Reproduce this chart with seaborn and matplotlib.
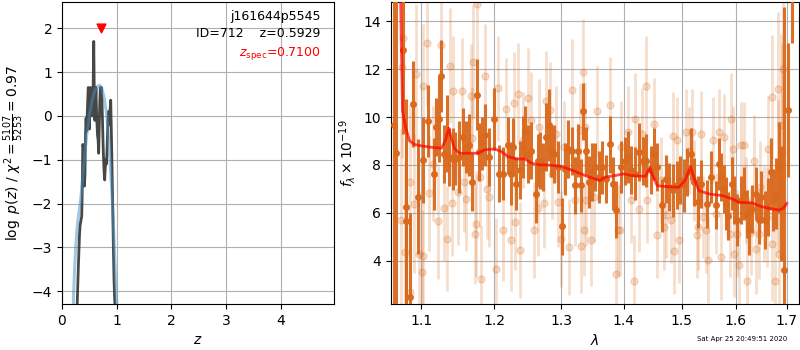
import numpy as np
import pandas as pd
import matplotlib
matplotlib.use("Agg")
import matplotlib.pyplot as plt
from matplotlib.ticker import FixedLocator, NullLocator, FixedFormatter
import seaborn as sns

# p(z): noisy full fit and smooth prior-ish curve
pz_z = [0.27, 0.28, 0.30, 0.32, 0.33, 0.35, 0.36, 0.37, 0.38, 0.39,
        0.40, 0.41, 0.42, 0.43, 0.44, 0.45, 0.46, 0.47, 0.48, 0.49,
        0.50, 0.51, 0.52, 0.53, 0.54, 0.55, 0.56, 0.57, 0.58, 0.59,
        0.60, 0.61, 0.62, 0.63, 0.64, 0.65, 0.66, 0.67, 0.68, 0.69,
        0.70, 0.71, 0.72, 0.73, 0.74, 0.75, 0.76, 0.77, 0.78, 0.79,
        0.80, 0.81, 0.82, 0.83, 0.84, 0.85, 0.86, 0.87, 0.88, 0.89,
        0.90, 0.91, 0.92, 0.93, 0.94, 0.95, 0.96, 0.97, 0.98]
pz_logp = [-4.8, -4.2, -3.4, -2.7, -2.5, -2.35, -2.3, -1.7, -0.65, -0.7,
           -1.1, -1.6, -1.3, -0.4, -0.05, -0.35, 0.0, 0.35, 0.65, 0.4,
           -0.3, 0.2, 0.65, 0.55, 0.0, 0.4, 0.2, 0.7, 1.7, 0.5,
           -0.1, 0.3, 0.65, 0.15, -0.2, -0.45, -0.55, -0.85, -0.3, 0.3,
           0.65, 0.6, 0.65, 0.35, -0.1, -0.6, -1.0, -1.3, -1.46, -1.2,
           -1.0, -1.1, -0.9, -0.5, -0.1, 0.1, 0.05, -0.2, 0.15, 0.36,
           -0.25, -0.9, -1.6, -2.3, -3.1, -3.7, -4.1, -4.4, -4.7]

smooth_z = [0.20, 0.21, 0.23, 0.25, 0.28, 0.31, 0.35, 0.40, 0.45, 0.50, 0.55, 0.60,
            0.65, 0.69, 0.73, 0.77, 0.81, 0.85, 0.88, 0.91, 0.94, 0.97, 1.00, 1.02]
smooth_logp = [-5.0, -4.1, -3.5, -3.0, -2.5, -2.2, -1.8, -1.1, -0.45, 0.0, 0.35, 0.58,
               0.68, 0.70, 0.62, 0.42, 0.1, -0.5, -1.1, -1.7, -2.5, -3.4, -4.3, -4.9]

z_spec = 0.71

# spectrum, first grism (dark points)
wave_g1 = [1.065, 1.068, 1.076, 1.080, 1.081, 1.0855, 1.090, 1.0955, 1.102, 1.109,
           1.117, 1.120, 1.124, 1.127, 1.130, 1.135, 1.137, 1.142, 1.146, 1.151,
           1.156, 1.160, 1.165, 1.169, 1.176, 1.179, 1.183, 1.187, 1.192, 1.200,
           1.207, 1.212, 1.220, 1.225, 1.227, 1.232, 1.238, 1.242, 1.245, 1.250,
           1.254, 1.261, 1.264, 1.268, 1.272, 1.277, 1.281, 1.284, 1.289, 1.294,
           1.301, 1.306, 1.310, 1.316, 1.321, 1.326, 1.330, 1.334, 1.338, 1.344,
           1.349, 1.353, 1.360, 1.365, 1.371, 1.378, 1.383, 1.388, 1.395, 1.402,
           1.408, 1.413, 1.419, 1.425, 1.432, 1.438, 1.446, 1.451, 1.457, 1.466,
           1.472, 1.478, 1.485, 1.491, 1.498, 1.504, 1.510, 1.516, 1.522, 1.530,
           1.535, 1.546, 1.554, 1.563, 1.568, 1.572, 1.577, 1.581, 1.586, 1.593,
           1.597, 1.603, 1.609, 1.616, 1.622, 1.625, 1.632, 1.638, 1.644, 1.649,
           1.656, 1.662, 1.668, 1.673, 1.679, 1.684, 1.689, 1.695, 1.703, 1.711]
flux_g1 = [9.65, 8.5, 12.8, 5.65, 6.25, 2.5, 10.55, 6.67, 8.2, 9.82,
           7.64, 9.58, 9.93, 11.7, 8.46, 9.3, 8.33, 8.26, 8.26, 8.33,
           9.17, 8.75, 8.82, 7.29, 10.94, 8.54, 8.9, 9.24, 8.33, 9.93,
           7.64, 7.64, 8.82, 7.64, 8.75, 7.22, 7.78, 8.75, 9.38, 8.46,
           8.6, 6.79, 8.18, 8.18, 7.92, 9.17, 9.65, 8.6, 8.46, 7.92,
           5.44, 7.83, 8.67, 8.6, 7.15, 8.6, 7.15, 10.24, 8.6, 7.29,
           7.71, 7.92, 7.5, 7.9, 7.4, 8.86, 7.22, 6.14, 7.92, 8.18,
           8.33, 7.78, 7.64, 8.54, 8.18, 8.18, 7.78, 8.46, 7.92, 6.32,
           7.43, 7.08, 6.94, 7.15, 7.36, 7.15, 7.71, 8.46, 7.29, 6.46,
           7.22, 6.39, 7.5, 6.32, 8.04, 7.5, 7.01, 6.39, 5.86, 7.22,
           6.53, 5.7, 6.53, 6.81, 5.97, 5.35, 6.18, 6.81, 5.7, 6.67,
           5.7, 6.25, 7.71, 6.53, 6.81, 7.9, 6.39, 3.6, 10.28, 16.5]
err_g1 = [9.0, 9.0, 3.5, 3.5, 4.5, 3.5, 1.8, 2.4, 1.8, 1.5,
          1.5, 1.2, 1.8, 1.5, 1.2, 1.6, 1.2, 1.3, 1.1, 1.5,
          1.2, 1.1, 1.3, 1.2, 1.5, 1.2, 1.1, 1.3, 1.2, 1.3,
          1.2, 1.1, 1.2, 1.3, 1.2, 1.1, 1.2, 1.3, 1.1, 1.2,
          1.2, 1.2, 1.1, 1.2, 1.0, 1.4, 1.5, 1.1, 1.2, 1.1,
          1.2, 1.1, 1.2, 1.0, 1.2, 1.1, 1.1, 1.2, 1.0, 1.1,
          1.2, 1.0, 1.1, 1.1, 1.0, 1.2, 1.1, 1.2, 1.1, 1.0,
          1.1, 1.0, 1.1, 1.2, 1.0, 1.1, 1.0, 1.1, 1.0, 1.1,
          1.0, 1.0, 1.1, 1.0, 1.0, 1.1, 1.0, 1.1, 1.0, 1.1,
          1.0, 1.0, 1.1, 1.0, 1.1, 1.0, 1.0, 1.1, 1.0, 1.1,
          1.0, 1.1, 1.0, 1.1, 1.0, 1.1, 1.0, 1.1, 1.0, 1.1,
          1.2, 1.2, 1.4, 1.3, 1.5, 1.9, 2.4, 11.0, 2.8, 3.4]

# spectrum, second grism (faint points)
wave_g2 = [1.074, 1.075, 1.076, 1.079, 1.085, 1.086, 1.091, 1.094, 1.097, 1.101,
           1.102, 1.103, 1.108, 1.111, 1.116, 1.123, 1.126, 1.130, 1.135, 1.139,
           1.142, 1.141, 1.149, 1.155, 1.158, 1.160, 1.167, 1.170, 1.169, 1.173,
           1.175, 1.176, 1.180, 1.181, 1.187, 1.190, 1.192, 1.203, 1.205, 1.212,
           1.217, 1.225, 1.228, 1.230, 1.235, 1.237, 1.242, 1.250, 1.254, 1.258,
           1.264, 1.266, 1.274, 1.276, 1.283, 1.286, 1.292, 1.294, 1.299, 1.304,
           1.312, 1.316, 1.321, 1.329, 1.330, 1.334, 1.335, 1.337, 1.339, 1.347,
           1.351, 1.356, 1.378, 1.388, 1.390, 1.394, 1.396, 1.408, 1.412, 1.418,
           1.419, 1.426, 1.431, 1.437, 1.440, 1.451, 1.457, 1.463, 1.469, 1.472,
           1.481, 1.484, 1.487, 1.492, 1.496, 1.507, 1.513, 1.519, 1.522, 1.527,
           1.530, 1.535, 1.539, 1.545, 1.548, 1.557, 1.562, 1.568, 1.572, 1.578,
           1.588, 1.591, 1.594, 1.597, 1.603, 1.606, 1.609, 1.616, 1.619, 1.622,
           1.630, 1.635, 1.638, 1.644, 1.647, 1.654, 1.660, 1.663, 1.670, 1.671,
           1.677, 1.682, 1.682, 1.685, 1.689, 1.690, 1.693]
flux_g2 = [5.72, 12.1, 13.3, 4.37, 2.7, 7.29, 6.39, 11.8, 4.3, 3.54,
           11.3, 4.19, 13.1, 6.83, 8.05, 5.65, 13.0, 6.2, 4.93, 12.15,
           11.1, 6.42, 6.88, 11.1, 7.29, 6.6, 10.86, 12.3, 9.14, 5.14,
           5.53, 14.7, 7.5, 3.26, 11.7, 7.0, 6.67, 3.68, 11.2, 5.28,
           10.35, 4.86, 10.6, 5.63, 10.97, 4.44, 9.03, 10.8, 9.89, 5.28,
           6.22, 9.58, 6.43, 10.67, 10.3, 7.64, 9.3, 6.46, 4.93, 8.75,
           4.58, 11.14, 6.53, 9.44, 4.64, 11.9, 5.28, 9.58, 6.53, 4.86,
           6.67, 10.24, 10.5, 3.46, 5.28, 5.28, 8.75, 9.38, 6.53, 3.18,
           9.93, 6.18, 9.3, 11.28, 6.53, 9.72, 5.07, 7.36, 5.42, 5.9,
           5.7, 9.23, 4.42, 9.03, 4.86, 9.38, 8.6, 9.38, 7.36, 5.07,
           5.42, 9.3, 5.83, 5.28, 4.03, 9.03, 5.97, 9.38, 4.17, 9.17,
           5.14, 9.93, 8.68, 4.3, 5.14, 3.82, 8.82, 8.82, 6.53, 3.18,
           5.21, 8.18, 4.51, 5.14, 7.08, 5.97, 5.83, 8.68, 10.83, 4.72,
           3.18, 11.18, 7.57, 4.3, 9.65, 8.54, 12.0]
err_g2 = [3.8, 3.8, 3.8, 3.8, 3.2, 3.2, 2.9, 2.9, 2.6, 2.6,
          2.6, 2.4, 2.6, 2.4, 2.4, 2.4, 2.4, 2.2, 2.2, 2.4,
          2.3, 2.2, 2.2, 2.2, 2.1, 2.2, 2.2, 2.4, 2.1, 2.1,
          2.2, 2.6, 2.1, 2.2, 2.2, 2.1, 2.1, 2.1, 2.2, 2.1,
          2.1, 2.1, 2.1, 2.0, 2.1, 2.0, 2.0, 2.1, 2.0, 2.0,
          2.0, 2.0, 1.9, 2.1, 2.0, 1.9, 2.0, 1.9, 2.0, 1.9,
          2.0, 2.1, 1.9, 2.0, 2.0, 2.2, 1.9, 1.9, 1.9, 1.9,
          1.9, 1.9, 2.0, 2.0, 1.9, 1.9, 1.9, 1.9, 1.8, 1.9,
          1.9, 1.8, 1.9, 2.1, 1.8, 1.9, 1.8, 1.8, 1.8, 1.8,
          1.8, 1.8, 1.8, 1.8, 1.8, 1.8, 1.8, 1.8, 1.7, 1.8,
          1.8, 1.8, 1.7, 1.8, 1.8, 1.8, 1.7, 1.8, 1.8, 1.8,
          1.8, 1.9, 1.8, 1.8, 1.8, 1.9, 1.8, 1.8, 1.8, 1.9,
          1.8, 1.9, 1.9, 1.9, 1.9, 2.0, 2.1, 2.2, 2.6, 2.4,
          2.8, 3.2, 3.2, 3.2, 3.8, 4.5, 6.0]

# best-fit model
wave_model = [1.073, 1.075, 1.076, 1.080, 1.085, 1.092, 1.100, 1.113, 1.127, 1.132,
              1.137, 1.140, 1.145, 1.152, 1.168, 1.177, 1.186, 1.200, 1.210, 1.220,
              1.2325, 1.245, 1.255, 1.265, 1.280, 1.300, 1.316, 1.337, 1.353, 1.361,
              1.369, 1.386, 1.400, 1.413, 1.431, 1.437, 1.444, 1.448, 1.457, 1.472,
              1.495, 1.506, 1.516, 1.524, 1.531, 1.550, 1.575, 1.594, 1.606, 1.631,
              1.650, 1.669, 1.684, 1.694, 1.700]
flux_model = [16.0, 12.07, 10.26, 9.57, 9.01, 8.85, 8.8, 8.74, 8.7, 9.0,
              9.53, 9.15, 8.67, 8.49, 8.49, 8.49, 8.63, 8.67, 8.57, 8.35,
              8.25, 8.25, 8.07, 8.01, 8.0, 7.94, 7.79, 7.56, 7.42, 7.35,
              7.49, 7.56, 7.63, 7.56, 7.53, 7.53, 7.9, 7.63, 7.14, 7.1,
              7.07, 7.35, 7.93, 7.35, 6.93, 6.79, 6.72, 6.58, 6.44, 6.42,
              6.26, 6.17, 6.12, 6.21, 6.4]

lam_ticks = [1.1, 1.2, 1.3, 1.4, 1.5, 1.6, 1.7]
lam_ticklabels = ['1.1', '1.2', '1.3', '1.4', '1.5', '1.6', '1.7']

plt.rcParams['font.family'] = ['DejaVu Sans']
orange = '#d9691c'

fig = plt.figure(figsize=(8, 3.5), dpi=100)
ax1 = fig.add_axes([0.0775, 0.1314, 0.34, 0.8629])
ax2 = fig.add_axes([0.4884, 0.1314, 0.5104, 0.8629])

# left panel: p(z)
sns.lineplot(x=pz_z, y=pz_logp, ax=ax1, color='#333333', lw=2, alpha=0.9,
             sort=False, estimator=None)
sns.lineplot(x=smooth_z, y=smooth_logp, ax=ax1, color='#4a90c4', lw=2.2, alpha=0.5,
             sort=False, estimator=None)
ax1.scatter([z_spec], [2.0], marker='v', color='red', s=40, zorder=5)
ax1.set_xlim(0, 4.97)
ax1.set_ylim(-4.29, 2.6)
ax1.set_yticks([-4, -3, -2, -1, 0, 1, 2])
ax1.set_xticks([0, 1, 2, 3, 4])
ax1.grid(True)
ax1.set_xlabel(r'$z$')
ax1.set_ylabel(r'$\log\ p(z)$ / $\chi^2=\frac{5107}{5253}=0.97$')
ax1.text(0.95, 0.975, 'j161644p5545\nID=712    z=0.5929', transform=ax1.transAxes,
         ha='right', va='top', fontsize=9, linespacing=1.45)
ax1.text(0.95, 0.83, r'$z_\mathrm{spec}$=0.7100', transform=ax1.transAxes,
         ha='right', va='center', fontsize=9, color='red')

# right panel: spectrum
ax2.errorbar(wave_g2, flux_g2, yerr=err_g2, fmt='o', color=orange, alpha=0.22,
             ms=5, elinewidth=2, zorder=2)
ax2.errorbar(wave_g1, flux_g1, yerr=err_g1, fmt='o', color=orange, alpha=0.95,
             ms=4, elinewidth=2.2, zorder=3)
sns.lineplot(x=wave_model, y=flux_model, ax=ax2, color='red', lw=2, alpha=0.7,
             sort=False, estimator=None, zorder=4)
ax2.set_xscale('log')
ax2.set_xlim(1.061, 1.725)
ax2.set_ylim(2.2, 14.8)
ax2.xaxis.set_major_locator(FixedLocator(lam_ticks))
ax2.xaxis.set_major_formatter(FixedFormatter(lam_ticklabels))
ax2.xaxis.set_minor_locator(NullLocator())
ax2.set_yticks([4, 6, 8, 10, 12, 14])
ax2.grid(True)
ax2.set_xlabel(r'$\lambda$')
ax2.set_ylabel(r'$f_\lambda\times10^{-19}$')

fig.text(0.984, 0.031, 'Sat Apr 25 20:49:51 2020', ha='right', va='center', fontsize=5)

fig.savefig('out.png', dpi=100)
